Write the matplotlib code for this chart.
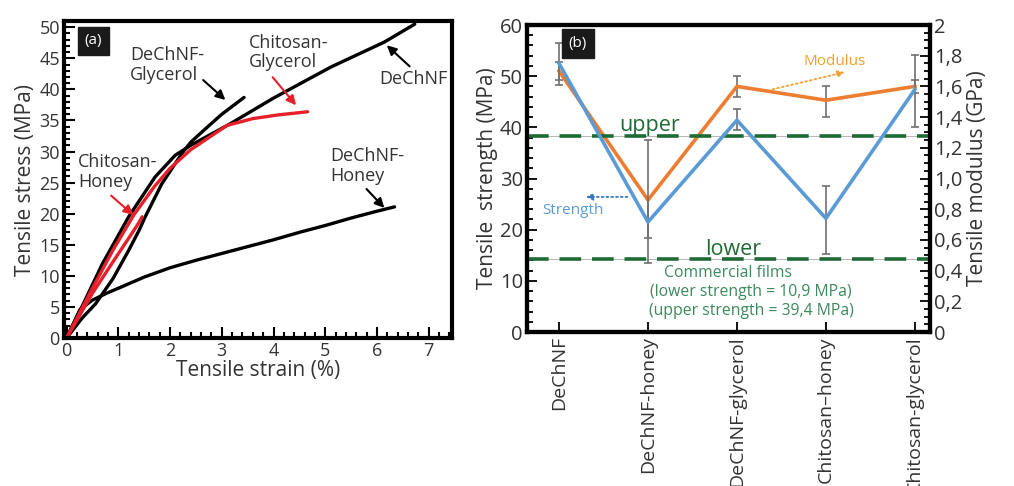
import matplotlib
matplotlib.use("Agg")
import matplotlib.pyplot as plt
from matplotlib.ticker import MultipleLocator, FuncFormatter

plt.rcParams['font.family'] = ['Open Sans', 'DejaVu Sans']

# ---------------- Panel (a) data: stress-strain curves ----------------
dechnf_x = [0, 0.33, 0.69, 1.2, 1.71, 2.1, 2.4, 3.17, 4.0, 5.11, 6.14, 6.73]
dechnf_y = [0, 5.6, 11.9, 19.5, 25.9, 29.4, 31.0, 34.5, 38.6, 43.6, 47.6, 50.5]

dechnf_gly_x = [0, 0.3, 0.56, 0.9, 1.2, 1.4, 1.52, 1.84, 2.23, 2.4, 2.65, 3.0, 3.43]
dechnf_gly_y = [0, 3.2, 5.5, 9.6, 14.1, 17.3, 19.5, 24.8, 29.7, 31.5, 33.4, 36.0, 38.7]

dechnf_hon_x = [0, 0.26, 0.5, 0.8, 1.0, 1.5, 2.0, 2.5, 3.0, 3.5, 4.0, 4.5, 5.0, 5.5, 6.0, 6.34]
dechnf_hon_y = [0, 4.6, 6.1, 7.3, 8.0, 9.8, 11.3, 12.5, 13.6, 14.7, 15.8, 17.0, 18.1, 19.3, 20.4, 21.1]

chi_gly_x = [0, 0.5, 0.9, 1.3, 1.7, 2.0, 2.4, 3.1, 3.6, 4.1, 4.66]
chi_gly_y = [0, 8.0, 14.2, 19.8, 24.4, 27.3, 30.3, 34.2, 35.3, 35.9, 36.4]

chi_hon_x = [0, 0.5, 0.9, 1.26, 1.4, 1.46]
chi_hon_y = [0, 7.2, 12.3, 16.8, 18.6, 19.5]

# ---------------- Panel (b) data ----------------
samples = ["DeChNF", "DeChNF-honey", "DeChNF-glycerol", "Chitosan\u2013honey", "Chitosan-glycerol"]
strength = [52.5, 21.5, 41.4, 22.2, 47.4]            # MPa
strength_lo = [48.3, 13.4, 39.5, 15.2, 40.1]
strength_hi = [56.5, 37.6, 43.5, 28.5, 54.1]
modulus = [1.70, 0.86, 1.60, 1.51, 1.60]             # GPa
modulus_lo = [1.64, 0.61, 1.53, 1.40, 1.56]
modulus_hi = [1.76, 0.88, 1.67, 1.60, 1.64]
upper_line = 38.3
lower_line = 14.2
right_ticks = [0, 0.2, 0.4, 0.6, 0.8, 1.0, 1.2, 1.4, 1.6, 1.8, 2.0]

TXT = '#333333'
BLUE = '#5B9BD5'
ORANGE = '#ED7D31'
GREEN = '#1E6B35'
LGREEN = '#3C8A5C'
RED = '#E5202A'

fig = plt.figure(figsize=(10.14, 4.86), dpi=100)

# ================= Panel (a) =================
ax = fig.add_axes([64/1014, 1-338/486, 388/1014, 317/486])
lw = 2.4
ax.plot(dechnf_x, dechnf_y, color='black', lw=lw, solid_capstyle='round')
ax.plot(dechnf_gly_x, dechnf_gly_y, color='black', lw=lw, solid_capstyle='round')
ax.plot(dechnf_hon_x, dechnf_hon_y, color='black', lw=lw, solid_capstyle='round')
ax.plot(chi_gly_x, chi_gly_y, color=RED, lw=lw, solid_capstyle='round')
ax.plot(chi_hon_x, chi_hon_y, color=RED, lw=lw, solid_capstyle='round')

ax.set_xlim(-0.05, 7.45)
ax.set_ylim(0, 51)
ax.xaxis.set_major_locator(MultipleLocator(1))
ax.xaxis.set_minor_locator(MultipleLocator(0.2))
ax.yaxis.set_major_locator(MultipleLocator(5))
ax.yaxis.set_minor_locator(MultipleLocator(1))
ax.tick_params(which='both', direction='in', top=False, right=False, colors='black',
               labelcolor=TXT, labelsize=13, width=1.5)
ax.tick_params(which='major', length=8)
ax.tick_params(which='minor', length=4.5)
ax.tick_params(axis='x', pad=3)
ax.tick_params(axis='y', pad=3)
for s in ax.spines.values():
    s.set_linewidth(3)
ax.set_xlabel("Tensile strain (%)", fontsize=15, color=TXT, labelpad=0)
ax.set_ylabel("Tensile stress (MPa)", fontsize=15, color=TXT, labelpad=2)

ax.text(0.52, 47.8, "(a)", fontsize=11, color='white', ha='center', va='center',
        bbox=dict(boxstyle='square,pad=0.45', fc='#1a1a1a', ec='#1a1a1a'))

afs = 13
ax.text(1.23, 43.9, "DeChNF-\nGlycerol", fontsize=afs, color=TXT, ha='left', va='center', linespacing=1.1)
ax.annotate("", xy=(3.11, 38.0), xytext=(2.6, 41.8),
            arrowprops=dict(arrowstyle='-|>', color='black', lw=1.5, mutation_scale=14))
ax.text(3.52, 45.9, "Chitosan-\nGlycerol", fontsize=afs, color=TXT, ha='left', va='center', linespacing=1.1)
ax.annotate("", xy=(4.47, 37.1), xytext=(3.95, 42.3),
            arrowprops=dict(arrowstyle='-|>', color=RED, lw=1.5, mutation_scale=14))
ax.text(6.05, 41.7, "DeChNF", fontsize=afs, color=TXT, ha='left', va='center')
ax.annotate("", xy=(6.15, 47.4), xytext=(6.67, 43.4),
            arrowprops=dict(arrowstyle='-|>', color='black', lw=1.5, mutation_scale=14))
ax.text(0.22, 26.7, "Chitosan-\nHoney", fontsize=afs, color=TXT, ha='left', va='center', linespacing=1.1)
ax.annotate("", xy=(1.33, 19.5), xytext=(0.82, 23.2),
            arrowprops=dict(arrowstyle='-|>', color=RED, lw=1.5, mutation_scale=14))
ax.text(5.1, 27.7, "DeChNF-\nHoney", fontsize=afs, color=TXT, ha='left', va='center', linespacing=1.1)
ax.annotate("", xy=(6.18, 20.6), xytext=(5.76, 24.3),
            arrowprops=dict(arrowstyle='-|>', color='black', lw=1.5, mutation_scale=14))

# ================= Panel (b) =================
bx = fig.add_axes([527/1014, 1-332/486, 403/1014, 307/486])
xs = list(range(len(samples)))
bx2 = bx.twinx()

bx.set_xlim(-0.36, 4.17)
bx.set_ylim(0, 60)
bx2.set_ylim(0, 2)

# commercial film lines
for yv in (upper_line, lower_line):
    bx.axhline(yv, color='#aaaaaa', lw=0.6, zorder=1)
    bx.axhline(yv, color=GREEN, lw=2.6, dashes=(6, 3), zorder=2)

# error bars
s_err = [[s - l for s, l in zip(strength, strength_lo)], [h - s for s, h in zip(strength, strength_hi)]]
m_err = [[m - l for m, l in zip(modulus, modulus_lo)], [h - m for m, h in zip(modulus, modulus_hi)]]
bx.errorbar(xs, strength, yerr=s_err, fmt='none', ecolor='#707070', elinewidth=1.2, capsize=3, capthick=1.2, zorder=3)
bx2.errorbar(xs, modulus, yerr=m_err, fmt='none', ecolor='#707070', elinewidth=1.2, capsize=3, capthick=1.2, zorder=3)

bx2.plot(xs, modulus, color=ORANGE, lw=2.6, zorder=4)
bx.set_zorder(bx2.get_zorder() + 1)
bx.patch.set_visible(False)
bx.plot(xs, strength, color=BLUE, lw=2.6, zorder=5)

bx.set_xticks(xs)
bx.set_xticklabels(samples, rotation=90, fontsize=14, color=TXT)
bx.yaxis.set_major_locator(MultipleLocator(10))
bx.yaxis.set_minor_locator(MultipleLocator(2))
bx2.set_yticks(right_ticks)
bx2.yaxis.set_minor_locator(MultipleLocator(0.05))

def comma_fmt(v, pos):
    if abs(v) < 1e-9 or abs(v - 2) < 1e-9:
        return "%d" % round(v)
    return ("%.1f" % v).replace('.', ',')
bx2.yaxis.set_major_formatter(FuncFormatter(comma_fmt))

bx.tick_params(axis='y', which='both', direction='in', right=False, labelsize=14.5, labelcolor=TXT, width=1.3, pad=3)
bx.tick_params(axis='y', which='major', length=7)
bx.tick_params(axis='y', which='minor', length=4)
bx.tick_params(axis='x', direction='in', length=7, width=1.3, top=False, pad=3)
bx2.tick_params(axis='y', which='both', direction='in', labelsize=14.5, labelcolor=TXT, width=1.3, pad=3)
bx2.tick_params(axis='y', which='major', length=7)
bx2.tick_params(axis='y', which='minor', length=4)
for a in (bx, bx2):
    for s in a.spines.values():
        s.set_linewidth(3)

bx.set_ylabel("Tensile  strength (MPa)", fontsize=15, color=TXT, labelpad=1)
bx2.set_ylabel("Tensile modulus (GPa)", fontsize=15, color=TXT, labelpad=3)

bx.text(0.21, 56.4, "(b)", fontsize=11, color='white', ha='center', va='center',
        bbox=dict(boxstyle='square,pad=0.45', fc='#1a1a1a', ec='#1a1a1a'))

bx.text(1.02, 40.4, "upper", fontsize=15.5, color=GREEN, ha='center', va='center')
bx.text(1.96, 16.1, "lower", fontsize=15.5, color=GREEN, ha='center', va='center')
bx.text(1.9, 11.5, "Commercial films", fontsize=11.3, color=LGREEN, ha='center', va='center')
bx.text(2.16, 7.8, "(lower strength = 10,9 MPa)", fontsize=11.3, color=LGREEN, ha='center', va='center')
bx.text(2.16, 4.1, "(upper strength = 39,4 MPa)", fontsize=11.3, color=LGREEN, ha='center', va='center')

bx.text(3.1, 52.8, "Modulus", fontsize=11, color='#F0A030', ha='center', va='center')
bx.annotate("", xy=(3.24, 50.9), xytext=(2.37, 47.3),
            arrowprops=dict(arrowstyle='-|>', color='#F0A030', lw=1.3, ls=':', mutation_scale=10))
bx.text(0.16, 23.8, "Strength", fontsize=11, color=BLUE, ha='center', va='center')
bx.annotate("", xy=(0.27, 26.4), xytext=(0.8, 26.4),
            arrowprops=dict(arrowstyle='-|>', color='#3A78C0', lw=1.3, ls=':', mutation_scale=10))

fig.savefig("out.png", dpi=100)
